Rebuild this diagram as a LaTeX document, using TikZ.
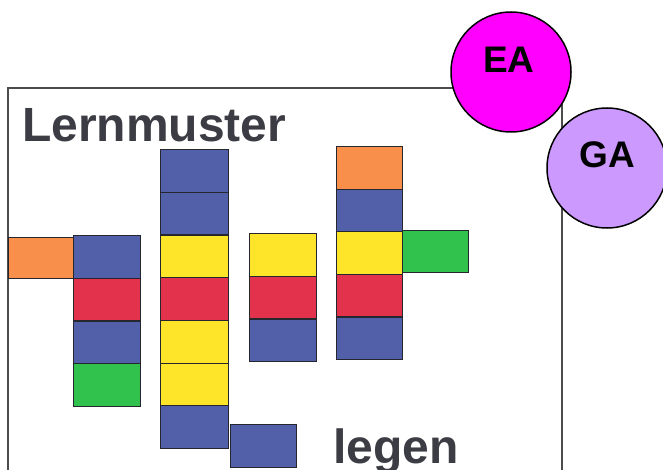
\documentclass[tikz,border=0pt]{standalone}
\usepackage{fontspec}
\setmainfont{Liberation Sans}
\definecolor{cOrange}{HTML}{F8904C}
\definecolor{cBlue}{HTML}{5260AA}
\definecolor{cRed}{HTML}{E2324C}
\definecolor{cYellow}{HTML}{FFE52A}
\definecolor{cGreen}{HTML}{30C24C}
\definecolor{cMagenta}{HTML}{FF00FF}
\definecolor{cLavender}{HTML}{CC99FF}
\definecolor{cInk}{HTML}{3C3C44}
\definecolor{cEdge}{HTML}{26262E}
\begin{document}
\begin{tikzpicture}[x=1pt,y=-1pt,
  block/.style={draw=cEdge,line width=1.2pt,inner sep=0pt,anchor=north west,
    minimum width=67pt,minimum height=42.7pt},
  frame/.style={draw=black!70,line width=1.6pt},
  badge/.style={circle,draw=black,line width=1.5pt,minimum size=120pt,inner sep=0pt},
  badgetext/.style={font=\bfseries\fontsize{37}{37}\selectfont,text=black},
  title/.style={font=\bfseries\fontsize{48}{48}\selectfont,text=cInk,inner sep=0pt}]
\useasboundingbox (0,0) rectangle (663,470);
\clip (0,0) rectangle (663,470);
\fill[white] (0,0) rectangle (663,470);

% sheet outline
\draw[frame] (8,88) rectangle (562,500);

% title and caption
\node[title,anchor=base west] (ttl) at (22,142) {Lernmuster};
\node[title,anchor=base west] (cap) at (333,463) {legen};

% column 1 with orange side block
\node[block,fill=cOrange,minimum width=65pt,minimum height=41pt] (a0) at (8,237) {};
\node[block,fill=cBlue]   (a1) at (73,235) {};
\node[block,fill=cRed]    (a2) at (73,277.7) {};
\node[block,fill=cBlue]   (a3) at (73,320.4) {};
\node[block,fill=cGreen]  (a4) at (73,363.1) {};

% column 2
\node[block,fill=cBlue,minimum width=68pt]   (b1) at (160,149) {};
\node[block,fill=cBlue,minimum width=68pt]   (b2) at (160,191.7) {};
\node[block,fill=cYellow,minimum width=68pt] (b3) at (160,234.4) {};
\node[block,fill=cRed,minimum width=68pt]    (b4) at (160,277.1) {};
\node[block,fill=cYellow,minimum width=68pt] (b5) at (160,319.8) {};
\node[block,fill=cYellow,minimum width=68pt] (b6) at (160,362.5) {};
\node[block,fill=cBlue,minimum width=68pt]   (b7) at (160,405.2) {};
\node[block,fill=cBlue,minimum width=66pt]   (b8) at (230,424) {};

% column 3
\node[block,fill=cYellow] (c1) at (249,233) {};
\node[block,fill=cRed]    (c2) at (249,275.7) {};
\node[block,fill=cBlue]   (c3) at (249,318.4) {};

% column 4 with green side block
\node[block,fill=cOrange,minimum width=66pt] (d1) at (336,146) {};
\node[block,fill=cBlue,minimum width=66pt]   (d2) at (336,188.6) {};
\node[block,fill=cYellow,minimum width=66pt] (d3) at (336,231.2) {};
\node[block,fill=cRed,minimum width=66pt]    (d4) at (336,273.8) {};
\node[block,fill=cBlue,minimum width=66pt]   (d5) at (336,316.4) {};
\node[block,fill=cGreen,minimum width=66pt,minimum height=42pt] (d6) at (402,230) {};

% work-form badges
\node[badge,fill=cMagenta] (ea) at (511,72) {};
\node[badgetext] (eat) at (509,60) {EA};
\node[badge,fill=cLavender] (ga) at (607,168) {};
\node[badgetext] (gat) at (607,155) {GA};
\end{tikzpicture}
\end{document}
